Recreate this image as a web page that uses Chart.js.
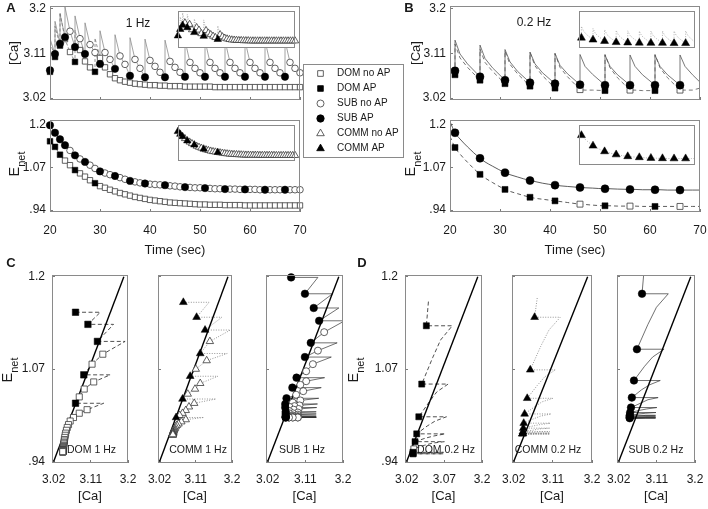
<!DOCTYPE html>
<html>
<head>
<meta charset="utf-8">
<title>Ca and Enet dynamics</title>
<script src="https://cdn.jsdelivr.net/npm/chart.js@4.4.1/dist/chart.umd.min.js"></script>
<style>
  html, body { margin: 0; padding: 0; background: #fff; }
  body { position: relative; width: 708px; height: 509px; overflow: hidden; }
  canvas { position: absolute; }
</style>
</head>
<body>
<script>
const FONT = "'Liberation Sans', Arial, Helvetica, sans-serif";
Chart.defaults.font.family = FONT;
Chart.defaults.color = '#1a1a1a';

// TICKS
const timeTicks = [20, 30, 40, 50, 60, 70];
const caTicks = [3.02, 3.11, 3.2];
const caTickLabels = ['3.02', '3.11', '3.2'];
const caTickLabelsDom02 = ['3.02', '3.07', '3.2'];
const eTicks = [0.94, 1.07, 1.2];
const eTickLabels = ['.94', '1.07', '1.2'];

// diagonal line of the phase plots
const nullCa = [3.02, 3.19];
const nullE = [0.94, 1.2];

const legendLabels = ['DOM no AP', 'DOM AP', 'SUB no AP', 'SUB AP', 'COMM no AP', 'COMM AP'];

// 1 Hz: one sample per second
const time1Hz = [20,21,22,23,24,25,26,27,28,29,30,31,32,33,34,35,36,37,38,39,40,41,42,43,44,45,
  46,47,48,49,50,51,52,53,54,55,56,57,58,59,60,61,62,63,64,65,66,67,68,69,70];

const subCa1Hz = [3.076,3.109,3.130,3.143,3.155,3.123,3.140,3.109,3.128,3.112,
  3.089,3.112,3.098,3.079,3.105,3.088,3.065,3.098,3.080,3.062,
  3.096,3.084,3.072,3.062,3.094,3.082,3.072,3.063,3.092,3.080,
  3.071,3.063,3.092,3.080,3.071,3.063,3.092,3.080,3.071,3.063,
  3.092,3.080,3.071,3.063,3.092,3.080,3.071,3.063,3.092,3.080,3.071];
const subE1Hz = [1.199,1.176,1.156,1.138,1.122,1.107,1.096,1.087,1.077,1.067,
  1.058,1.053,1.048,1.044,1.039,1.034,1.029,1.026,1.023,1.021,
  1.019,1.018,1.017,1.016,1.014,1.013,1.011,1.010,1.009,1.008,
  1.008,1.007,1.006,1.005,1.005,1.004,1.004,1.004,1.003,1.003,
  1.003,1.003,1.002,1.002,1.002,1.002,1.002,1.002,1.002,1.002,1.002];
const subAp1Hz = [20,21,22,23,25,27,30,33,36,39,43,47,51,55,59,63,67];
const subPeak1Hz = [3.140,3.175,3.190,3.204,3.186,3.172,3.156,3.148,3.142,3.139,3.137,3.136,3.136,3.136,3.136,3.136,3.136];

const domCa1Hz = [3.073,3.103,3.126,3.139,3.113,3.093,3.117,3.094,3.082,3.073,
  3.101,3.082,3.068,3.060,3.056,3.053,3.051,3.049,3.048,3.047,
  3.046,3.046,3.045,3.045,3.044,3.044,3.044,3.043,3.043,3.043,
  3.043,3.043,3.043,3.042,3.042,3.042,3.042,3.042,3.042,3.042,
  3.042,3.042,3.042,3.042,3.042,3.042,3.042,3.042,3.042,3.042,3.042];
const domE1Hz = [1.150,1.133,1.109,1.091,1.077,1.062,1.052,1.042,1.031,1.022,
  1.013,1.008,1.002,0.997,0.992,0.988,0.984,0.980,0.977,0.974,
  0.971,0.969,0.967,0.965,0.963,0.962,0.961,0.960,0.959,0.958,
  0.957,0.957,0.956,0.956,0.956,0.955,0.955,0.955,0.955,0.954,
  0.954,0.954,0.954,0.954,0.954,0.954,0.954,0.954,0.954,0.954,0.954];
const domAp1Hz = [20,21,22,25,29];
const domPeak1Hz = [3.133,3.165,3.193,3.157,3.141];

const commCa1Hz = [3.079,3.112,3.133,3.145,3.121,3.137,3.110,3.096,3.121,3.108,
  3.090,3.077,3.106,3.093,3.085,3.077,3.070,3.061,3.085,3.074,
  3.067,3.063,3.060,3.058,3.057,3.056,3.055,3.055,3.054,3.054,
  3.054,3.053,3.053,3.053,3.053,3.053,3.053,3.053,3.053,3.053,
  3.053,3.053,3.053,3.053,3.053,3.053,3.053,3.053,3.053,3.053,3.053];
const commE1Hz = [1.164,1.143,1.125,1.109,1.092,1.082,1.070,1.060,1.050,1.042,
  1.035,1.028,1.022,1.017,1.012,1.008,1.005,1.002,0.999,0.996,
  0.993,0.991,0.989,0.987,0.986,0.985,0.984,0.983,0.982,0.981,
  0.981,0.980,0.980,0.980,0.980,0.979,0.979,0.979,0.979,0.979,
  0.979,0.979,0.978,0.978,0.978,0.978,0.978,0.978,0.978,0.978,0.978];
const commAp1Hz = [20,21,22,24,27,31,37];
const commPeak1Hz = [3.143,3.175,3.196,3.188,3.165,3.160,3.130];

// 0.2 Hz: one sample every 5 s, plus readings 1 s and 2.5 s after each sample
const time02Hz = [21,26,31,36,41,46,51,56,61,66];
const decayLags = [1, 2.5];

const sub02Ca = [3.075,3.063,3.056,3.051,3.049,3.047,3.046,3.046,3.046,3.046];
const sub02E = [1.176,1.098,1.054,1.030,1.016,1.009,1.005,1.003,1.002,1.001];
const sub02Peak = [3.137,3.127,3.118,3.113,3.110,3.108,3.107,3.107,3.107,3.107];
const sub02Ca1 = [3.109,3.100,3.093,3.089,3.086,3.084,3.084,3.084,3.084,3.084];
const sub02Ca2 = [3.089,3.081,3.074,3.071,3.069,3.068,3.067,3.067,3.067,3.067];
const sub02E1 = [1.157,1.087,1.048,1.027,1.014,1.008,1.005,1.003,1.002,1.001];
const sub02E2 = [1.133,1.074,1.041,1.022,1.012,1.007,1.004,1.002,1.001,1.001];
const sub02Start = [3.080, 1.210];
const sub02End = [3.052, 1.001];

const dom02Ca = [3.067,3.056,3.049,3.044,3.040,3.037,3.035,3.036,3.035,3.036];
const dom02E = [1.131,1.049,1.003,0.979,0.968,0.958,0.953,0.952,0.951,0.951];
const dom02Ap = [1,1,1,1,1,0,1,0,1,0];
const dom02Peak = [3.129,3.119,3.115,3.112,3.110,3.037,3.108,3.036,3.108,3.036];
const dom02Ca1 = [3.101,3.092,3.088,3.085,3.082,3.036,3.081,3.036,3.081,3.036];
const dom02Ca2 = [3.082,3.074,3.069,3.065,3.063,3.036,3.061,3.035,3.061,3.036];
const dom02E1 = [1.111,1.038,0.997,0.976,0.966,0.957,0.953,0.952,0.951,0.951];
const dom02E2 = [1.086,1.024,0.990,0.973,0.963,0.955,0.952,0.951,0.951,0.951];
const dom02Start = [3.072, 1.165];
const dom02End = [3.040, 0.951];

const comm02Ca = [3.068,3.058,3.051,3.045,3.043,3.042,3.041,3.041,3.040,3.040];
const comm02E = [1.143,1.069,1.029,1.007,0.994,0.987,0.982,0.980,0.979,0.979];
const comm02Peak = [3.127,3.116,3.110,3.106,3.104,3.103,3.103,3.103,3.103,3.103];
const comm02Ca1 = [3.101,3.091,3.085,3.082,3.080,3.079,3.079,3.079,3.079,3.079];
const comm02Ca2 = [3.082,3.074,3.068,3.065,3.064,3.063,3.063,3.062,3.062,3.062];
const comm02E1 = [1.125,1.059,1.024,1.004,0.992,0.986,0.982,0.980,0.979,0.979];
const comm02E2 = [1.102,1.047,1.017,1.000,0.990,0.984,0.981,0.979,0.979,0.979];
const comm02Start = [3.074, 1.170];
const comm02End = [3.044, 0.979];

// SERIES BUILDERS
const pts = (xs, ys) => xs.map((x, i) => ({x, y: ys[i]}));

function marks1Hz(xs, ys, apTimes, wantAp) {
  return time1Hz.map((t, i) => ({x: xs ? xs[i] : t, y: ys[i], ap: apTimes.includes(t)}))
    .filter(p => p.ap === wantAp);
}
function saw1Hz(vals, apTimes, peaks) {
  const out = [];
  time1Hz.forEach((t, i) => {
    out.push({x: t, y: vals[i]});
    const j = apTimes.indexOf(t);
    if (j >= 0) out.push({x: t, y: peaks[j]});
  });
  return out;
}
function phase1Hz(ca, e, apTimes, peaks) {
  const out = [];
  time1Hz.forEach((t, i) => {
    out.push({x: ca[i], y: e[i]});
    const j = apTimes.indexOf(t);
    if (j >= 0) out.push({x: peaks[j], y: e[i]});
  });
  return out;
}

function marks02(xs, ys, flags, want) {
  return xs.map((x, i) => ({x, y: ys[i], ap: flags ? flags[i] === 1 : true}))
    .filter(p => p.ap === want);
}
function caTrace02(ca, peak, ca1, ca2, start, end) {
  const out = [{x: 20, y: start[0]}];
  time02Hz.forEach((t, k) => out.push({x: t, y: ca[k]}, {x: t, y: peak[k]},
    {x: t + decayLags[0], y: ca1[k]}, {x: t + decayLags[1], y: ca2[k]}));
  out.push({x: 70, y: end[0]});
  return out;
}
function eTrace02(e, e1, e2, start, end) {
  const out = [{x: 20, y: start[1]}];
  time02Hz.forEach((t, k) => out.push({x: t, y: e[k]},
    {x: t + decayLags[0], y: e1[k]}, {x: t + decayLags[1], y: e2[k]}));
  out.push({x: 70, y: end[1]});
  return out;
}
function phase02(ca, e, peak, ca1, e1, ca2, e2, start, end) {
  const out = [{x: start[0], y: start[1]}];
  ca.forEach((c, k) => out.push({x: c, y: e[k]}, {x: peak[k], y: e[k]},
    {x: ca1[k], y: e1[k]}, {x: ca2[k], y: e2[k]}));
  out.push({x: end[0], y: end[1]});
  return out;
}

// DATASET STYLES
function marks(data, style, filled, r) {
  return {
    data, showLine: false, pointStyle: style, pointRadius: r, pointHoverRadius: r,
    pointBackgroundColor: filled ? '#000' : '#fff',
    pointBorderColor: filled ? '#000' : '#3a3a3a',
    pointBorderWidth: filled ? 0.5 : 0.8, clip: false
  };
}
function path(data, color, width, dash, smooth) {
  return {
    data, showLine: true, pointRadius: 0, pointHoverRadius: 0,
    borderColor: color, borderWidth: width, borderDash: dash || [],
    tension: 0, cubicInterpolationMode: smooth ? 'monotone' : 'default', fill: false
  };
}

// PLUGINS
function framePlugin(fill) {
  return {
    id: 'frame',
    beforeDraw(chart) {
      if (!fill) return;
      const a = chart.chartArea;
      chart.ctx.save();
      chart.ctx.fillStyle = '#fff';
      chart.ctx.fillRect(a.left, a.top, a.right - a.left, a.bottom - a.top);
      chart.ctx.restore();
    },
    afterDraw(chart) {
      const a = chart.chartArea, ctx = chart.ctx;
      ctx.save();
      ctx.strokeStyle = '#8a8a8a';
      ctx.lineWidth = 1;
      ctx.strokeRect(Math.round(a.left) + 0.5, Math.round(a.top) + 0.5,
        Math.round(a.right - a.left) - 1, Math.round(a.bottom - a.top) - 1);
      ctx.restore();
    }
  };
}
function notesPlugin(box, items) {
  return {
    id: 'notes',
    afterDraw(chart) {
      const ctx = chart.ctx;
      items.forEach(n => {
        ctx.save();
        ctx.translate(n.x - box.l, n.y - box.t);
        if (n.rot) ctx.rotate(-Math.PI / 2);
        ctx.fillStyle = '#1a1a1a';
        ctx.textBaseline = 'middle';
        const main = (n.bold ? 'bold ' : '') + n.size + 'px ' + FONT;
        if (n.sub) {
          const subFont = Math.round(n.size * 0.76) + 'px ' + FONT;
          ctx.font = main;
          const w1 = ctx.measureText(n.text).width;
          ctx.font = subFont;
          const w2 = ctx.measureText(n.sub).width;
          const x0 = -(w1 + w2) / 2;
          ctx.textAlign = 'left';
          ctx.fillText(n.sub, x0 + w1, n.size * 0.5);
          ctx.font = main;
          ctx.fillText(n.text, x0, 0);
        } else {
          ctx.font = main;
          ctx.textAlign = 'center';
          ctx.fillText(n.text, 0, 0);
        }
        ctx.restore();
      });
    }
  };
}

// AXES
function axis(spec, size) {
  if (!spec.ticks) return {type: 'linear', display: false, min: spec.min, max: spec.max};
  return {
    type: 'linear', min: spec.min, max: spec.max,
    afterBuildTicks: s => { s.ticks = spec.ticks.map(v => ({value: v})); },
    afterFit: s => {
      if (s.isHorizontal()) s.height = size; else s.width = size;
      s.paddingLeft = s.paddingRight = s.paddingTop = s.paddingBottom = 0;
    },
    ticks: {
      display: !!spec.labels, autoSkip: false, maxRotation: 0, minRotation: 0,
      padding: spec.pad || 7, font: {size: 12}, color: '#1a1a1a',
      callback: (v, i) => spec.labels ? spec.labels[i] : ''
    },
    grid: {drawOnChartArea: false, drawTicks: true, tickLength: -3, color: '#7a7a7a'},
    border: {display: false},
    title: {display: !!spec.title, text: spec.title || '', font: {size: 13}, color: '#1a1a1a',
      padding: spec.titlePad || 0}
  };
}

function plot(box, area, datasets, xs, ys, opts) {
  opts = opts || {};
  const cv = document.createElement('canvas');
  cv.width = box.w; cv.height = box.h;
  cv.style.left = box.l + 'px'; cv.style.top = box.t + 'px';
  document.body.appendChild(cv);
  const xSize = box.t + box.h - area.b;
  const ySize = area.l - box.l;
  return new Chart(cv, {
    type: 'scatter',
    data: {datasets},
    options: {
      responsive: false, animation: false, events: [],
      layout: {padding: {
        left: ys.ticks ? 0 : ySize, top: area.t - box.t,
        right: box.l + box.w - area.r, bottom: xs.ticks ? 0 : xSize}},
      plugins: {legend: {display: false}, tooltip: {enabled: false}},
      scales: {x: axis(xs, xSize), y: axis(ys, ySize)}
    },
    plugins: [framePlugin(opts.fill), notesPlugin(box, opts.notes || [])]
  });
}

const caRange = {min: 3.016, max: 3.206};
const eRange = {min: 0.934, max: 1.215};
const leftCa = {...caRange, ticks: caTicks, labels: caTickLabels, pad: 7, title: '[Ca]', titlePad: {top: 7, bottom: 0}};
const leftE = {...eRange, ticks: eTicks, labels: eTickLabels, pad: 7};
const timeNoLabels = {min: 20, max: 70, ticks: timeTicks};
const timeLabels = {min: 20, max: 70, ticks: timeTicks, labels: timeTicks.map(String), pad: 14,
  title: 'Time (sec)', titlePad: {top: 0, bottom: 3.5}};
const enetNote = (x, y) => ({text: 'E', sub: 'net', x, y, size: 14.5, rot: true});

// PANEL A (1 Hz)
plot({l: 0, t: 0, w: 310, h: 105}, {l: 50, t: 6, r: 300, b: 100}, [
  marks(marks1Hz(null, subCa1Hz, subAp1Hz, true), 'circle', true, 3.7),
  marks(marks1Hz(null, subCa1Hz, subAp1Hz, false), 'circle', false, 3.3),
  marks(marks1Hz(null, domCa1Hz, domAp1Hz, true), 'rect', true, 4),
  marks(marks1Hz(null, domCa1Hz, domAp1Hz, false), 'rect', false, 3.8),
  path(saw1Hz(domCa1Hz, domAp1Hz, domPeak1Hz), '#777', 0.8, [3, 2]),
  path(saw1Hz(subCa1Hz, subAp1Hz, subPeak1Hz), '#8c8c8c', 0.8)
], timeNoLabels, leftCa, {notes: [
  {text: 'A', x: 11, y: 8, size: 13, bold: true},
  {text: '1 Hz', x: 138, y: 24, size: 12}]});

plot({l: 0, t: 110, w: 310, h: 152}, {l: 50, t: 120, r: 300, b: 212}, [
  marks(marks1Hz(null, subE1Hz, subAp1Hz, true), 'circle', true, 3.7),
  marks(marks1Hz(null, subE1Hz, subAp1Hz, false), 'circle', false, 3.3),
  marks(marks1Hz(null, domE1Hz, domAp1Hz, true), 'rect', true, 4),
  marks(marks1Hz(null, domE1Hz, domAp1Hz, false), 'rect', false, 3.8),
  path(pts(time1Hz, domE1Hz), '#555', 0.8, [3, 2]),
  path(pts(time1Hz, subE1Hz), '#555', 0.8)
], timeLabels, leftE, {notes: [enetNote(15, 164)]});

// PANEL B (0.2 Hz)
plot({l: 400, t: 0, w: 310, h: 105}, {l: 450, t: 6, r: 700, b: 100}, [
  marks(marks02(time02Hz, sub02Ca, null, true), 'circle', true, 4),
  marks(marks02(time02Hz, dom02Ca, dom02Ap, true), 'rect', true, 4.2),
  marks(marks02(time02Hz, dom02Ca, dom02Ap, false), 'rect', false, 4.2),
  path(caTrace02(dom02Ca, dom02Peak, dom02Ca1, dom02Ca2, dom02Start, dom02End), '#555', 0.8, [4, 3]),
  path(caTrace02(sub02Ca, sub02Peak, sub02Ca1, sub02Ca2, sub02Start, sub02End), '#555', 0.8)
], timeNoLabels, {...leftCa, titlePad: {top: 9, bottom: 0}}, {notes: [
  {text: 'B', x: 409, y: 8, size: 13, bold: true},
  {text: '0.2 Hz', x: 534, y: 23, size: 12}]});

plot({l: 400, t: 110, w: 310, h: 152}, {l: 450, t: 120, r: 700, b: 212}, [
  marks(marks02(time02Hz, sub02E, null, true), 'circle', true, 4),
  marks(marks02(time02Hz, dom02E, dom02Ap, true), 'rect', true, 4.2),
  marks(marks02(time02Hz, dom02E, dom02Ap, false), 'rect', false, 4.2),
  path(eTrace02(dom02E, dom02E1, dom02E2, dom02Start, dom02End), '#333', 0.8, [4, 3], true),
  path(eTrace02(sub02E, sub02E1, sub02E2, sub02Start, sub02End), '#333', 0.8, [], true)
], timeLabels, leftE, {notes: [enetNote(411, 164)]});

// INSETS (COMM)
const insetTime = {min: 20, max: 70};
plot({l: 173, t: 6, w: 127, h: 47}, {l: 173, t: 6, r: 300, b: 53}, [
  marks(marks1Hz(null, commCa1Hz, commAp1Hz, true), 'triangle', true, 4.3),
  marks(marks1Hz(null, commCa1Hz, commAp1Hz, false), 'triangle', false, 4.1),
  path(saw1Hz(commCa1Hz, commAp1Hz, commPeak1Hz), '#9a9a9a', 0.8, [1, 1.5])
], insetTime, caRange, {fill: true});

plot({l: 173, t: 120, w: 127, h: 46}, {l: 173, t: 120, r: 300, b: 166}, [
  marks(marks1Hz(null, commE1Hz, commAp1Hz, true), 'triangle', true, 4.3),
  marks(marks1Hz(null, commE1Hz, commAp1Hz, false), 'triangle', false, 4.1),
  path(pts(time1Hz, commE1Hz), '#9a9a9a', 0.8, [1, 1.5])
], insetTime, eRange, {fill: true});

plot({l: 574, t: 6, w: 126, h: 47}, {l: 574, t: 6, r: 700, b: 53}, [
  marks(marks02(time02Hz, comm02Ca, null, true), 'triangle', true, 4.6),
  path(caTrace02(comm02Ca, comm02Peak, comm02Ca1, comm02Ca2, comm02Start, comm02End), '#a0a0a0', 0.8, [1, 1.5])
], insetTime, caRange, {fill: true});

plot({l: 574, t: 120, w: 126, h: 50}, {l: 574, t: 120, r: 700, b: 170}, [
  marks(marks02(time02Hz, comm02E, null, true), 'triangle', true, 4.6),
  path(eTrace02(comm02E, comm02E1, comm02E2, comm02Start, comm02End), '#a0a0a0', 0.8, [1, 1.5], true)
], insetTime, eRange, {fill: true});

// PANELS C and D (phase plots)
const phaseX = {min: 3.016, max: 3.2, ticks: caTicks, labels: caTickLabels, pad: 12,
  title: '[Ca]', titlePad: {top: 0, bottom: 3.5}};
const phaseYFirst = {min: 0.938, max: 1.2024, ticks: eTicks, labels: eTickLabels, pad: 10};
const phaseY = {min: 0.938, max: 1.2024, ticks: eTicks};
const diag = () => path(pts(nullCa, nullE), '#000', 1.4);

plot({l: 0, t: 255, w: 138, h: 253}, {l: 52, t: 275, r: 128, b: 463}, [
  marks(marks1Hz(domCa1Hz, domE1Hz, domAp1Hz, true), 'rect', true, 4.6),
  marks(marks1Hz(domCa1Hz, domE1Hz, domAp1Hz, false), 'rect', false, 4.3),
  diag(),
  path(phase1Hz(domCa1Hz, domE1Hz, domAp1Hz, domPeak1Hz), '#3c3c3c', 0.9, [4, 2.5])
], phaseX, phaseYFirst, {notes: [
  {text: 'C', x: 11, y: 263, size: 13, bold: true},
  enetNote(8, 370),
  {text: 'DOM 1 Hz', x: 91.5, y: 450, size: 10.5}]});

plot({l: 140, t: 255, w: 102, h: 253}, {l: 158, t: 275, r: 232, b: 463}, [
  marks(marks1Hz(commCa1Hz, commE1Hz, commAp1Hz, true), 'triangle', true, 4.5),
  marks(marks1Hz(commCa1Hz, commE1Hz, commAp1Hz, false), 'triangle', false, 4.3),
  diag(),
  path(phase1Hz(commCa1Hz, commE1Hz, commAp1Hz, commPeak1Hz), '#8a8a8a', 0.9, [1, 1.5])
], phaseX, phaseY, {notes: [{text: 'COMM 1 Hz', x: 198, y: 450, size: 10.5}]});

plot({l: 248, t: 255, w: 105, h: 253}, {l: 266, t: 275, r: 343, b: 463}, [
  marks(marks1Hz(subCa1Hz, subE1Hz, subAp1Hz, true), 'circle', true, 3.8),
  marks(marks1Hz(subCa1Hz, subE1Hz, subAp1Hz, false), 'circle', false, 3.5),
  diag(),
  path(phase1Hz(subCa1Hz, subE1Hz, subAp1Hz, subPeak1Hz), '#333', 0.7)
], phaseX, phaseY, {notes: [{text: 'SUB 1 Hz', x: 302, y: 450, size: 10.5}]});

plot({l: 345, t: 255, w: 147, h: 253}, {l: 405, t: 275, r: 482, b: 463}, [
  marks(marks02(dom02Ca, dom02E, dom02Ap, true), 'rect', true, 4.3),
  marks(marks02(dom02Ca, dom02E, dom02Ap, false), 'rect', false, 4.1),
  diag(),
  path(phase02(dom02Ca, dom02E, dom02Peak, dom02Ca1, dom02E1, dom02Ca2, dom02E2, dom02Start, dom02End), '#3c3c3c', 0.9, [4, 2.5])
], {...phaseX, labels: caTickLabelsDom02}, phaseYFirst, {notes: [
  {text: 'D', x: 362, y: 263, size: 13, bold: true},
  enetNote(354, 370),
  {text: 'DOM 0.2 Hz', x: 446, y: 450, size: 10.5}]});

plot({l: 494, t: 255, w: 108, h: 253}, {l: 512, t: 275, r: 592, b: 463}, [
  marks(marks02(comm02Ca, comm02E, null, true), 'triangle', true, 4.5),
  diag(),
  path(phase02(comm02Ca, comm02E, comm02Peak, comm02Ca1, comm02E1, comm02Ca2, comm02E2, comm02Start, comm02End), '#8a8a8a', 0.9, [1, 1.5])
], phaseX, phaseY, {notes: [{text: 'COMM 0.2 Hz', x: 548, y: 450, size: 10.5}]});

plot({l: 603, t: 255, w: 102, h: 253}, {l: 617, t: 275, r: 695, b: 463}, [
  marks(marks02(sub02Ca, sub02E, null, true), 'circle', true, 3.8),
  diag(),
  path(phase02(sub02Ca, sub02E, sub02Peak, sub02Ca1, sub02E1, sub02Ca2, sub02E2, sub02Start, sub02End), '#333', 0.7)
], phaseX, phaseY, {notes: [{text: 'SUB 0.2 Hz', x: 656, y: 450, size: 10.5}]});

// LEGEND
const legendShapes = ['rect', 'rect', 'circle', 'circle', 'triangle', 'triangle'];
const legendFilled = [false, true, false, true, false, true];
const legendSizes = [4, 4, 3.5, 3.7, 4.4, 4.4];
(function () {
  const cv = document.createElement('canvas');
  cv.width = 101; cv.height = 94;
  cv.style.left = '303px'; cv.style.top = '64px';
  document.body.appendChild(cv);
  new Chart(cv, {
    type: 'scatter',
    data: {datasets: []},
    options: {
      responsive: false, animation: false, events: [],
      plugins: {legend: {display: false}, tooltip: {enabled: false}},
      scales: {x: {display: false}, y: {display: false}}
    },
    plugins: [{
      id: 'legendBox',
      afterDraw(chart) {
        const ctx = chart.ctx;
        ctx.save();
        ctx.strokeStyle = '#8a8a8a';
        ctx.lineWidth = 1;
        ctx.strokeRect(0.5, 0.5, chart.width - 1, chart.height - 1);
        legendLabels.forEach((txt, i) => {
          const y = 9.5 + i * 15;
          ctx.fillStyle = legendFilled[i] ? '#000' : '#fff';
          ctx.strokeStyle = legendFilled[i] ? '#000' : '#3a3a3a';
          ctx.lineWidth = 0.8;
          Chart.helpers.drawPoint(ctx, {pointStyle: legendShapes[i], radius: legendSizes[i],
            borderWidth: 0.8, rotation: 0}, 17.5, y);
          ctx.fillStyle = '#1a1a1a';
          ctx.font = '10px ' + FONT;
          ctx.textAlign = 'left';
          ctx.textBaseline = 'middle';
          ctx.fillText(txt, 34, y);
        });
        ctx.restore();
      }
    }]
  });
})();
</script>
</body>
</html>
